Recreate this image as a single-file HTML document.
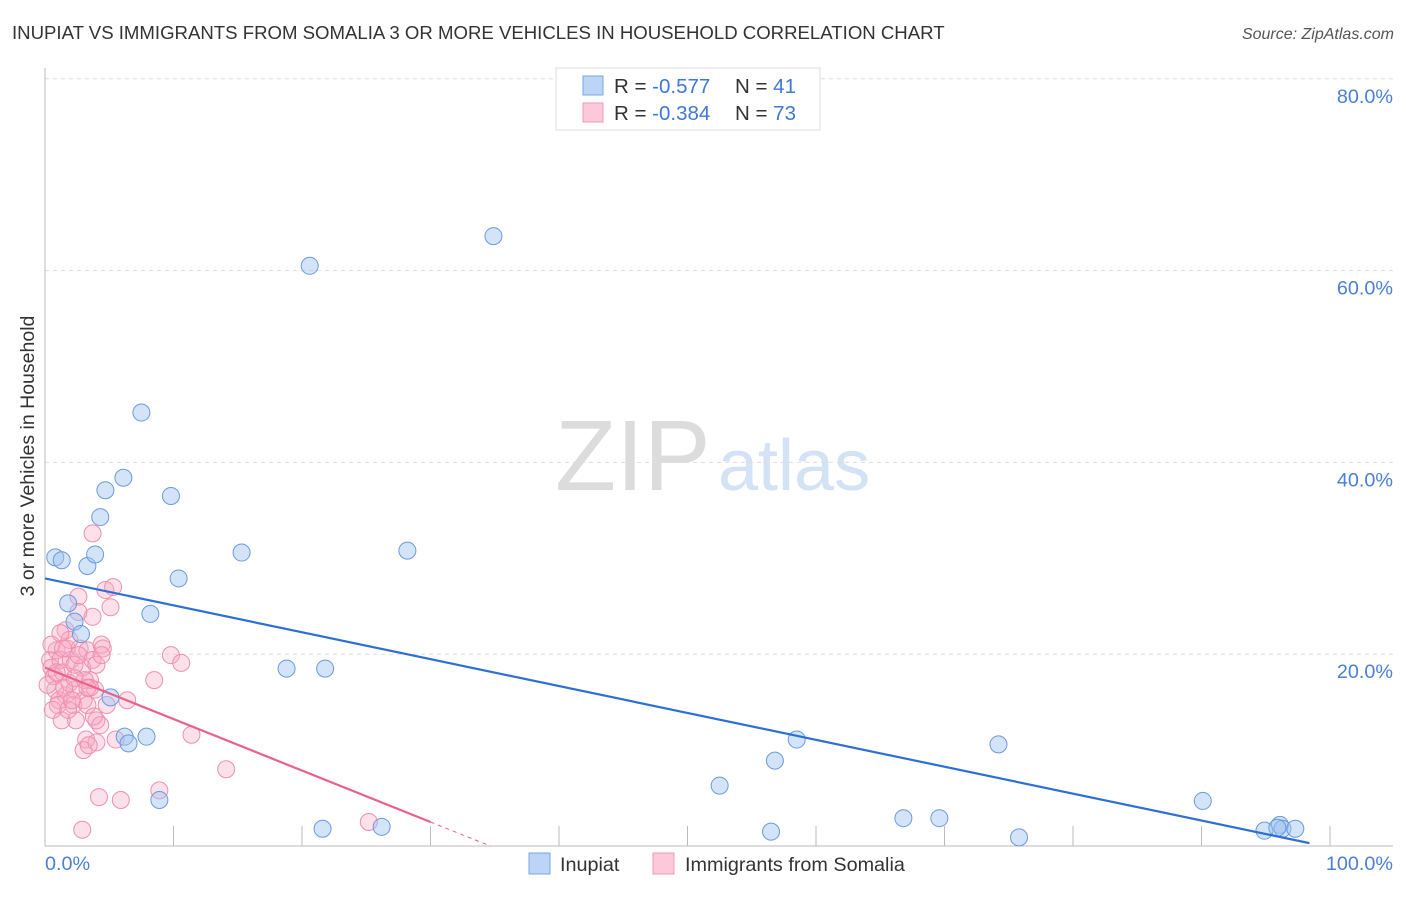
<!DOCTYPE html>
<html><head><meta charset="utf-8"><style>
body{margin:0;background:#fff;font-family:"Liberation Sans",sans-serif;}
svg text{font-family:"Liberation Sans",sans-serif;}
</style></head><body>
<svg id="chart" width="1406" height="892" xmlns="http://www.w3.org/2000/svg">
<text x="12" y="39" font-size="18.6" fill="#333">INUPIAT VS IMMIGRANTS FROM SOMALIA 3 OR MORE VEHICLES IN HOUSEHOLD CORRELATION CHART</text>
<text x="1394" y="39" font-size="16" fill="#555" text-anchor="end" font-style="italic">Source: ZipAtlas.com</text>
<g>
<text x="555" y="490" font-size="100" fill="#dcdcdc" font-family="Liberation Serif, serif">ZIP</text>
<text x="718" y="490" font-size="72" fill="#d4e2f5">atlas</text>
</g>
<g id="grid"></g>
<g id="axes"></g>
<g id="marks"></g>
<text transform="translate(34,456) rotate(-90)" font-size="19.5" fill="#333" text-anchor="middle">3 or more Vehicles in Household</text>
<g>
<rect x="556" y="68" width="264" height="62" fill="#fff" stroke="#ddd"/>
<rect x="583" y="76" width="20" height="19" fill="#bcd4f5" stroke="#7aa6e6"/>
<rect x="583" y="103" width="20" height="19" fill="#fbc9d9" stroke="#f098b6"/>
<text x="614" y="93" font-size="20.5" fill="#333">R = <tspan fill="#3f78d6">-0.577</tspan><tspan x="735">N = </tspan><tspan fill="#3f78d6">41</tspan></text>
<text x="614" y="120" font-size="20.5" fill="#333">R = <tspan fill="#3f78d6">-0.384</tspan><tspan x="735">N = </tspan><tspan fill="#3f78d6">73</tspan></text>
</g>
<g>
<rect x="529" y="853" width="21" height="21" fill="#bcd4f5" stroke="#7aa6e6"/>
<text x="560" y="871" font-size="19.8" fill="#333">Inupiat</text>
<rect x="653" y="853" width="21" height="21" fill="#fbc9d9" stroke="#f098b6"/>
<text x="685" y="871" font-size="19.8" fill="#333">Immigrants from Somalia</text>
</g>
</svg>
<script>
const yTicks=[20,40,60,80];
const yTickLabels=["20.0%","40.0%","60.0%","80.0%"];
const xTicks=[0,10,20,30,40,50,60,70,80,90,100];
const inupiatX=[0.8,1.3,1.8,2.3,2.8,3.3,3.9,4.3,4.7,5.1,6.1,6.2,6.5,7.5,7.9,8.2,8.9,9.8,10.4,15.3,18.8,20.6,21.6,21.8,26.2,28.2,34.9,52.5,56.5,56.8,58.5,66.8,69.6,74.2,75.8,90.1,94.9,96.1,96.3,97.3,95.9];
const inupiatY=[30.1,29.8,25.3,23.4,22.1,29.2,30.4,34.3,37.1,15.5,38.4,11.4,10.7,45.2,11.4,24.2,4.8,36.5,27.9,30.6,18.5,60.5,1.8,18.5,2.0,30.8,63.6,6.3,1.5,8.9,11.1,2.9,2.9,10.6,0.9,4.7,1.6,2.2,1.8,1.8,1.9];
const somaliaX=[0.4,0.5,0.7,0.8,0.9,1.1,1.2,1.4,1.6,1.7,1.9,2.0,2.2,2.3,2.4,2.6,2.7,2.9,3.0,3.2,3.3,3.5,3.7,3.7,3.9,4.0,4.2,4.4,4.5,4.7,4.8,5.1,5.3,5.5,5.9,6.4,8.5,8.9,9.8,10.6,11.4,14.1,25.2,2.9,1.0,1.3,1.6,1.9,2.3,2.6,3.1,3.3,3.7,4.0,4.3,0.5,0.2,0.9,1.5,1.8,2.1,2.6,3.0,3.5,3.8,4.0,0.6,1.2,3.4,1.4,2.3,3.3,4.4];
const somaliaY=[19.4,18.6,17.7,16.3,20.4,15.2,19.4,18.1,15.7,20.6,17.0,19.4,14.7,16.3,13.1,26.0,20.6,18.6,15.2,11.1,20.4,17.3,32.6,23.9,16.3,13.1,5.1,21.0,20.6,26.7,14.7,24.9,27.0,11.1,4.8,15.2,17.3,5.8,19.9,19.1,11.6,8.0,2.5,1.7,14.7,13.1,22.5,21.5,18.9,19.9,17.3,14.7,19.4,18.9,12.6,21.0,16.8,18.1,16.5,14.2,15.2,24.4,10.0,16.5,13.5,10.8,14.2,22.2,10.5,20.6,17.5,16.5,19.9];
const inupiatTrend=[27.9,0.3];   // y at x=0 and x=98.4
const somaliaTrend=[18.6,2.5];   // y at x=0 and x=30
const NS="http://www.w3.org/2000/svg";
const X=v=>45+v*12.85, Y=v=>846-v*9.59;
function mk(tag,attrs,parent){const e=document.createElementNS(NS,tag);for(const k in attrs)e.setAttribute(k,attrs[k]);parent.appendChild(e);return e;}
const grid=document.getElementById('grid'),axes=document.getElementById('axes'),marks=document.getElementById('marks');
yTicks.forEach((t,i)=>{
 const l=mk('line',{x1:45,x2:1393,y1:Y(t),y2:Y(t),stroke:'#ddd','stroke-dasharray':'4,4'},grid);
 
 
 const tx=mk('text',{x:1393,y:Y(t)+24,'font-size':19.8,fill:'#4a7fd4','text-anchor':'end'},axes);
 tx.textContent=yTickLabels[i];
 
 
});
const la=mk('line',{x1:45,x2:45,y1:68,y2:846,stroke:'#bbb'},axes);


const lb=mk('line',{x1:45,x2:1393,y1:846,y2:846,stroke:'#bbb'},axes);


xTicks.forEach(t=>{
 const l=mk('line',{x1:X(t),x2:X(t),y1:826,y2:846,stroke:'#bbb'},axes);
 
 
});
const x0=mk('text',{x:45,y:870,'font-size':19.8,fill:'#4a7fd4'},axes);x0.textContent="0.0%";


const x1=mk('text',{x:1393,y:870,'font-size':19.8,fill:'#4a7fd4','text-anchor':'end'},axes);x1.textContent="100.0%";


somaliaX.forEach((x,i)=>{
 const c=mk('circle',{cx:X(x),cy:Y(somaliaY[i]),r:8.5,fill:'rgba(246,170,196,0.35)',stroke:'#ef8fb0','stroke-width':1},marks);
 
 
});
inupiatX.forEach((x,i)=>{
 const c=mk('circle',{cx:X(x),cy:Y(inupiatY[i]),r:8.5,fill:'rgba(160,196,240,0.45)',stroke:'#6a9ae0','stroke-width':1},marks);
 
 
});
const tb=mk('line',{x1:X(0),y1:Y(inupiatTrend[0]),x2:X(98.4),y2:Y(inupiatTrend[1]),stroke:'#2d6fd6','stroke-width':2.2},marks);


const tp=mk('line',{x1:X(0),y1:Y(somaliaTrend[0]),x2:X(30),y2:Y(somaliaTrend[1]),stroke:'#e8628c','stroke-width':2.2},marks);


const slope=(somaliaTrend[1]-somaliaTrend[0])/30, xe=-somaliaTrend[0]/slope;
const td=mk('line',{x1:X(30),y1:Y(somaliaTrend[1]),x2:X(xe),y2:Y(0),stroke:'#e8628c','stroke-width':1,'stroke-dasharray':'4,4'},marks);


</script>
</body></html>
